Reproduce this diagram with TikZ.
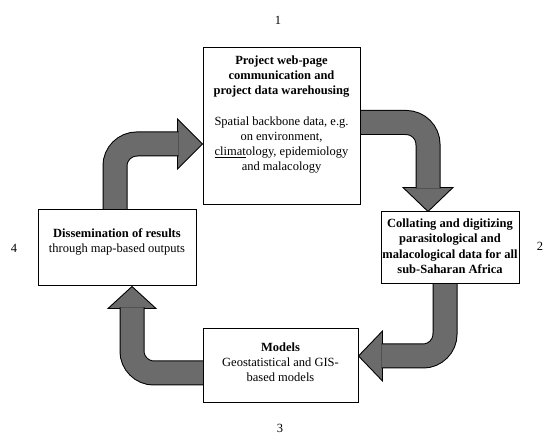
\documentclass[tikz,border=0pt]{standalone}
\usepackage{fontspec}
\setmainfont{Liberation Serif}
\usetikzlibrary{backgrounds}
\begin{document}
\begin{tikzpicture}[x=1pt,y=-1pt,
  box/.style={draw=black, line width=1pt, fill=white, inner sep=0pt},
  numtext/.style={font=\fontsize{12.5}{15}\selectfont, inner sep=0pt},
  boxtext/.style={font=\fontsize{12.5}{15}\selectfont, align=center, inner sep=0pt, anchor=north},
  arrowhead/.style={fill=black!58, draw=black, line width=0.9pt, line join=miter},
  shaft/.style={draw=black!58, line width=23pt, rounded corners=22pt,
                preaction={draw=black, line width=25pt}}
]
\useasboundingbox (0,0) rectangle (547,438);

% the four stages
\node[box, minimum width=157pt, minimum height=157pt] (b1) at (281.5,126.5) {};
\node[box, minimum width=138pt, minimum height=72pt]  (b2) at (450,248) {};
\node[box, minimum width=155pt, minimum height=74pt]  (b3) at (280.5,366) {};
\node[box, minimum width=158pt, minimum height=76pt]  (b4) at (117,248) {};

\node[boxtext] (t1) at (281.5,55.5) {\textbf{Project web-page}\\
  \textbf{communication and}\\
  \textbf{project data warehousing}\\[16pt]
  Spatial backbone data, e.g.\\
  on environment,\\
  \underline{climat}ology, epidemiology\\
  and malacology};
\node[boxtext, font=\fontsize{12.5}{15.5}\selectfont\bfseries] (t2) at (450,218.5) {Collating and digitizing\\
  parasitological and\\
  malacological data for all\\
  sub-Saharan Africa};
\node[boxtext] (t3) at (280.5,342.5) {\textbf{Models}\\
  Geostatistical and GIS-\\
  based models};
\node[boxtext] (t4) at (117,228.5) {\textbf{Dissemination of results}\\
  through map-based outputs};

% stage numbers
\node[numtext] (n1) at (278,20) {1};
\node[numtext] (n2) at (540,246) {2};
\node[numtext] (n3) at (280,428) {3};
\node[numtext] (n4) at (14,248) {4};

% tips of the cycle arrows
\coordinate (h41) at ([yshift=-17.5pt]b1.west);
\coordinate (h12) at ([xshift=-22pt]b2.north);
\coordinate (h23) at ([yshift=10pt]b3.east);
\coordinate (h34) at ([xshift=15pt]b4.south);

\begin{scope}[on background layer]
  % 4 -> 1
  \filldraw[arrowhead] (h41) -- ++(-25,-25) -- ++(0,50) -- cycle;
  \draw[shaft] ([xshift=-2pt,yshift=-3pt]b4.north) |- ([xshift=-24pt]h41);
  % 1 -> 2
  \filldraw[arrowhead] (h12) -- ++(-25,-24) -- ++(50,0) -- cycle;
  \draw[shaft] ([xshift=-3pt,yshift=4pt]b1.east) -| ([yshift=23pt]h12);
  % 2 -> 3
  \filldraw[arrowhead] (h23) -- ++(24,-25) -- ++(0,50) -- cycle;
  \draw[shaft] ([xshift=-5pt,yshift=3pt]b2.south) |- ([xshift=23pt]h23);
  % 3 -> 4
  \filldraw[arrowhead] (h34) -- ++(-24,22) -- ++(48,0) -- cycle;
  \draw[shaft] ([xshift=3pt,yshift=-7pt]b3.west) -| ([yshift=-21pt]h34);
\end{scope}
\end{tikzpicture}
\end{document}
